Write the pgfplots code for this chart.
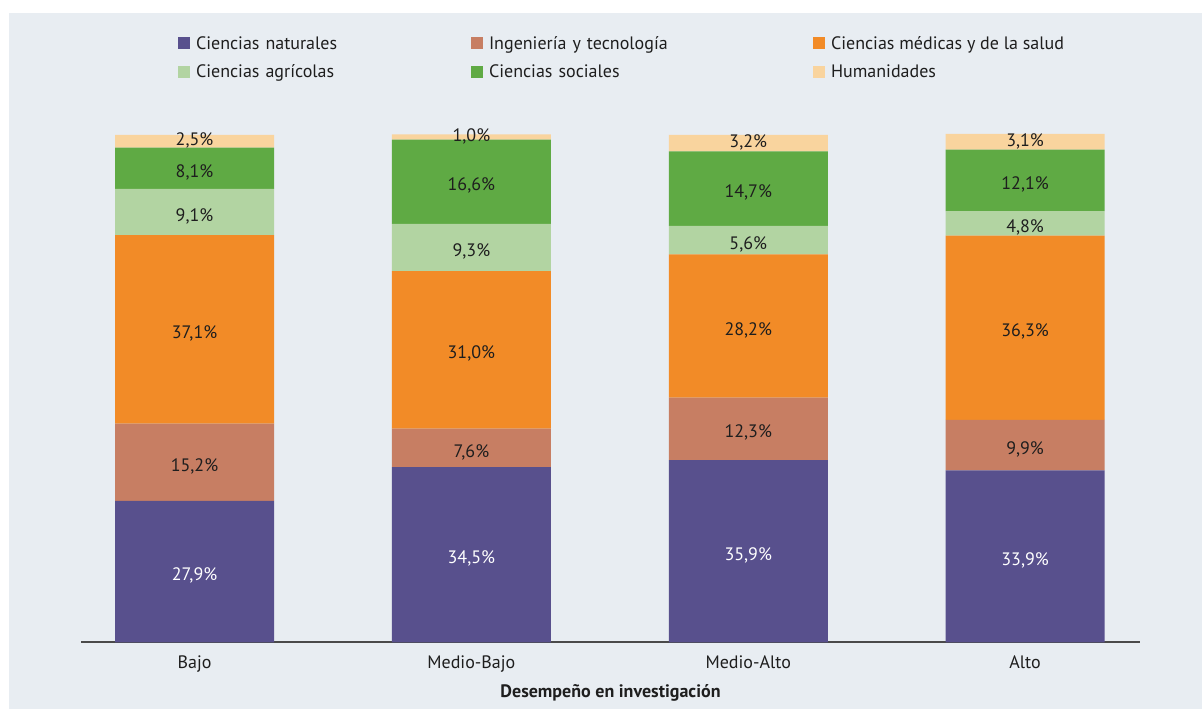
\documentclass[border=0pt]{standalone}
\usepackage{pgfplots}
\pgfplotsset{compat=1.18}
\usepackage{fontspec}
\setmainfont{PT Sans}
\definecolor{cnat}{HTML}{58508D}
\definecolor{cing}{HTML}{C77E63}
\definecolor{cmed}{HTML}{F28B27}
\definecolor{cagr}{HTML}{B2D4A2}
\definecolor{csoc}{HTML}{5FAA44}
\definecolor{chum}{HTML}{F9D49E}
\definecolor{panel}{HTML}{E8EDF2}
\definecolor{axisgray}{HTML}{4A4A4A}
\definecolor{txt}{HTML}{1E1E1E}
\begin{document}
\begin{tikzpicture}[font=\fontsize{13.5pt}{16pt}\selectfont, text=txt]
\fill[white] (0,0) rectangle (901.5pt,531.75pt);
\fill[panel] (6.75pt,0) rectangle (901.5pt,522pt);
\begin{axis}[
    at={(60.75pt,49.875pt)}, anchor=south west,
    scale only axis, width=794.25pt, height=384.81pt,
    ybar stacked, bar width=119.25pt,
    xmin=-0.41, xmax=3.415, ymin=0, ymax=101,
    axis x line=bottom, axis y line=none,
    x axis line style={-, draw=axisgray, line width=1.5pt},
    xtick={0,1,2,3},
    xticklabels={Bajo, Medio-Bajo, Medio-Alto, Alto},
    major tick length=0pt,
    xticklabel style={anchor=base, yshift=-19.5pt},
    xlabel={\bfseries Desempeño en investigación},
    xlabel style={at={(axis description cs:0.5,0)}, anchor=base, yshift=-41.25pt},
    point meta=explicit,
    /pgf/number format/assume math mode=true,
    nodes near coords={\pgfmathprintnumber[fixed,fixed zerofill,precision=1,use comma]{\pgfplotspointmeta}\%},
    every node near coord/.append style={anchor=center, text=txt, yshift=-3pt},
    legend columns=3,
    legend cell align=left,
    legend style={at={(0.0916,1.18)}, anchor=north west, draw=none, fill=none,
        inner sep=0pt, outer sep=0pt, column sep=4.5pt, row sep=11.9pt,
        nodes={inner sep=0pt, text height=9.4pt, text depth=0pt},
        /tikz/column 2/.style={nodes={text width=201.75pt}},
        /tikz/column 4/.style={nodes={text width=238.5pt}},
    },
    legend image code/.code={\fill[#1, draw=none] (0pt,-4.5pt) rectangle (9pt,4.5pt);},
]
\addplot[fill=cnat, draw=none, every node near coord/.append style={text=white}]
    coordinates {(0,27.9) [27.9] (1,34.5) [34.5] (2,35.9) [35.9] (3,33.9) [33.9]};
\addplot[fill=cing, draw=none]
    coordinates {(0,15.2) [15.2] (1,7.6) [7.6] (2,12.3) [12.3] (3,9.9) [9.9]};
\addplot[fill=cmed, draw=none]
    coordinates {(0,37.1) [37.1] (1,31.0) [31.0] (2,28.2) [28.2] (3,36.3) [36.3]};
\addplot[fill=cagr, draw=none]
    coordinates {(0,9.1) [9.1] (1,9.3) [9.3] (2,5.6) [5.6] (3,4.8) [4.8]};
\addplot[fill=csoc, draw=none]
    coordinates {(0,8.1) [8.1] (1,16.6) [16.6] (2,14.7) [14.7] (3,12.1) [12.1]};
\addplot[fill=chum, draw=none, every node near coord/.append style={yshift=3.5pt}]
    coordinates {(0,2.5) [2.5] (1,1.0) [1.0] (2,3.2) [3.2] (3,3.1) [3.1]};
\legend{Ciencias naturales, Ingeniería y tecnología, Ciencias médicas y de la salud,
        Ciencias agrícolas, Ciencias sociales, Humanidades}
\end{axis}
\end{tikzpicture}
\end{document}
